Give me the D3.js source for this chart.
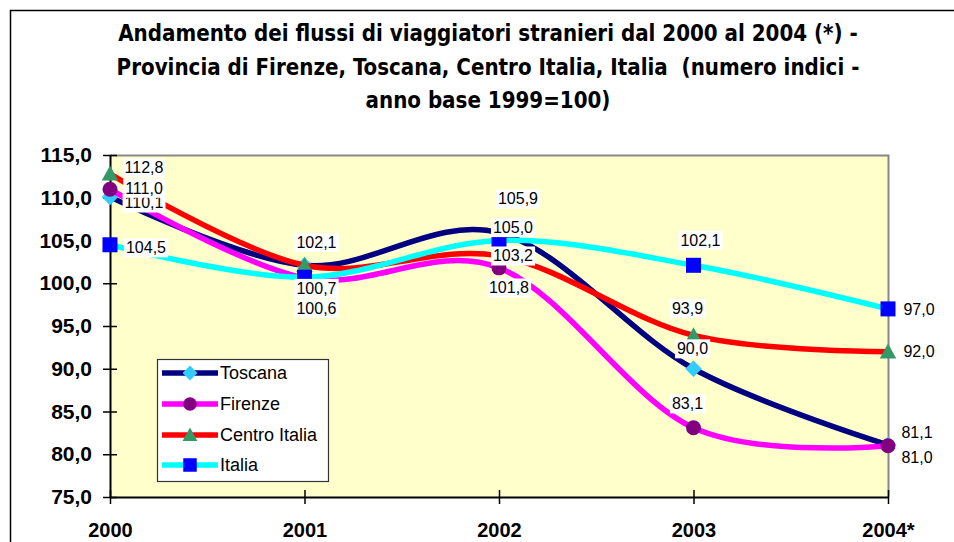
<!DOCTYPE html>
<html>
<head>
<meta charset="utf-8">
<script src="https://cdn.jsdelivr.net/npm/d3@7"></script>
<style>
  html, body { margin: 0; padding: 0; background: #fff; }
  svg { display: block; }
</style>
</head>
<body>
<svg id="chart" width="954" height="542"></svg>
<script>
// ---- data ----
const years = ["2000", "2001", "2002", "2003", "2004*"];
const toscana = [110.1, 102.1, 105.9, 90.0, 81.1];
const firenze = [111.0, 100.6, 101.8, 83.1, 81.0];
const centroItalia = [112.8, 102.1, 103.2, 93.9, 92.0];
const italia = [104.5, 100.7, 105.0, 102.1, 97.0];
const seriesNames = ["Toscana", "Firenze", "Centro Italia", "Italia"];
const yTicks = [75, 80, 85, 90, 95, 100, 105, 110, 115];
const titleLines = [
  "Andamento dei flussi di viaggiatori stranieri dal 2000 al 2004 (*) -",
  "Provincia di Firenze, Toscana, Centro Italia, Italia  (numero indici -",
  "anno base 1999=100)"
];

// ---- layout / style (not data) ----
const styles = [
  { line: "#000080", marker: "#33CCFF", shape: "diamond" },
  { line: "#FF00FF", marker: "#800080", shape: "circle" },
  { line: "#FF0000", marker: "#339966", shape: "triangle" },
  { line: "#00FFFF", marker: "#0000FF", shape: "square" }
];
const labelOffsets = [
  [[34, 6], [12, -23], [19, -34], [-1, -20], [29, -12]],
  [[34, -1], [12, 30], [10, 20], [-6, -24], [29, 12]],
  [[34, -6], [12, -23], [14, 0], [-6, -27], [31, 0]],
  [[36, 3], [12, 11], [14, -13], [7, -25], [31, 0]]
];

const seriesValues = [toscana, firenze, centroItalia, italia];
const fmt = v => v.toFixed(1).replace(".", ",");

const svg = d3.select("#chart");

// outer chart border
svg.append("rect").attr("x", 10.5).attr("y", 10.5).attr("width", 1200).attr("height", 1200)
  .attr("fill", "#fff").attr("stroke", "#000").attr("stroke-width", 1.5);

// title
const titleFont = "'DejaVu Sans Condensed', 'DejaVu Sans', sans-serif";
const title = svg.append("g");
const tl = title.selectAll("text").data(titleLines).join("text")
  .attr("x", 488).attr("y", (d, i) => 41 + i * 33.5)
  .attr("text-anchor", "middle")
  .style("white-space", "pre")
  .attr("font-family", titleFont).attr("font-weight", "bold")
  .attr("font-size", 20).attr("fill", "#000")
  .text(d => d);
// fit first line to reference width
const w0 = tl.nodes()[0].getComputedTextLength();
const fs = 20 * 740 / w0;
tl.attr("font-size", fs);

// scales
const x = d3.scalePoint().domain(years).range([110, 888]);
const y = d3.scaleLinear().domain([75, 115]).range([497, 155]);

// plot area
svg.append("rect").attr("x", 110).attr("y", 155).attr("width", 778).attr("height", 342)
  .attr("fill", "#FFFFCC");
svg.append("path").attr("d", "M110,155.5H888.5V497").attr("fill", "none")
  .attr("stroke", "#888").attr("stroke-width", 2);

// axes
const yAxis = d3.axisLeft(y).tickValues(yTicks).tickFormat(fmt).tickSizeInner(7).tickSizeOuter(0).tickPadding(11);
const gy = svg.append("g").attr("transform", "translate(110,0)").call(yAxis);
gy.select(".domain").attr("stroke", "#000").attr("stroke-width", 2);
gy.selectAll(".tick line").attr("x1", 7).attr("x2", -7).attr("stroke", "#000").attr("stroke-width", 1.5);
gy.selectAll(".tick text").attr("font-family", "'Liberation Sans', Arial, sans-serif")
  .attr("font-weight", "bold").attr("font-size", 21).attr("fill", "#000");

const xAxis = d3.axisBottom(x).tickSizeInner(7).tickSizeOuter(0).tickPadding(19);
const gx = svg.append("g").attr("transform", "translate(0,497)").call(xAxis);
gx.select(".domain").attr("stroke", "#000").attr("stroke-width", 2);
gx.selectAll(".tick line").attr("y1", -7).attr("y2", 7).attr("stroke", "#000").attr("stroke-width", 1.5);
gx.selectAll(".tick text").attr("font-family", "'Liberation Sans', Arial, sans-serif")
  .attr("font-weight", "bold").attr("font-size", 20).attr("fill", "#000");

// marker drawing
function drawMarker(g, shape, color, cx, cy, s) {
  if (shape === "diamond") {
    g.append("path").attr("d", `M${cx},${cy - s * 0.55}L${cx + s * 0.55},${cy}L${cx},${cy + s * 0.55}L${cx - s * 0.55},${cy}Z`)
      .attr("fill", color);
  } else if (shape === "circle") {
    g.append("circle").attr("cx", cx).attr("cy", cy).attr("r", s / 2).attr("fill", color);
  } else if (shape === "triangle") {
    g.append("path").attr("d", `M${cx},${cy - s * 0.55}L${cx + s * 0.55},${cy + s * 0.45}L${cx - s * 0.55},${cy + s * 0.45}Z`)
      .attr("fill", color);
  } else {
    g.append("rect").attr("x", cx - s / 2).attr("y", cy - s / 2).attr("width", s).attr("height", s).attr("fill", color);
  }
}

const line = d3.line().x((d, i) => x(years[i])).y(d => y(d)).curve(d3.curveCardinal.tension(0));

const plot = svg.append("g");
seriesValues.forEach((vals, si) => {
  const g = plot.append("g");
  g.append("path").attr("d", line(vals)).attr("fill", "none")
    .attr("stroke", styles[si].line).attr("stroke-width", 5.5).attr("stroke-linejoin", "round");
  vals.forEach((v, i) => drawMarker(g, styles[si].shape, styles[si].marker, x(years[i]), y(v), 15));
});

// data labels
const labels = svg.append("g");
seriesValues.forEach((vals, si) => {
  vals.forEach((v, i) => {
    const cx = x(years[i]) + labelOffsets[si][i][0];
    const cy = y(v) + labelOffsets[si][i][1];
    const g = labels.append("g");
    const t = g.append("text").attr("x", cx).attr("y", cy).attr("dy", "0.35em")
      .attr("text-anchor", "middle").attr("font-family", "'Liberation Sans', Arial, sans-serif")
      .attr("font-size", 16).attr("fill", "#000").text(fmt(v));
    const bb = t.node().getBBox();
    g.insert("rect", "text").attr("x", bb.x - 2).attr("y", bb.y - 1)
      .attr("width", bb.width + 4).attr("height", bb.height + 2).attr("fill", "#fff");
  });
});

// legend
const lg = svg.append("g");
lg.append("rect").attr("x", 157.5).attr("y", 359.5).attr("width", 171).attr("height", 122)
  .attr("fill", "#fff").attr("stroke", "#333").attr("stroke-width", 1.2);
const legendY = [373, 404, 435, 465];
seriesNames.forEach((name, si) => {
  const cy = legendY[si];
  lg.append("line").attr("x1", 162).attr("x2", 218).attr("y1", cy).attr("y2", cy)
    .attr("stroke", styles[si].line).attr("stroke-width", 5.5);
  drawMarker(lg, styles[si].shape, styles[si].marker, 190, cy, 13.5);
  lg.append("text").attr("x", 220).attr("y", cy).attr("dy", "0.35em")
    .attr("font-family", "'Liberation Sans', Arial, sans-serif").attr("font-size", 18)
    .attr("fill", "#000").text(name);
});
</script>
</body>
</html>
